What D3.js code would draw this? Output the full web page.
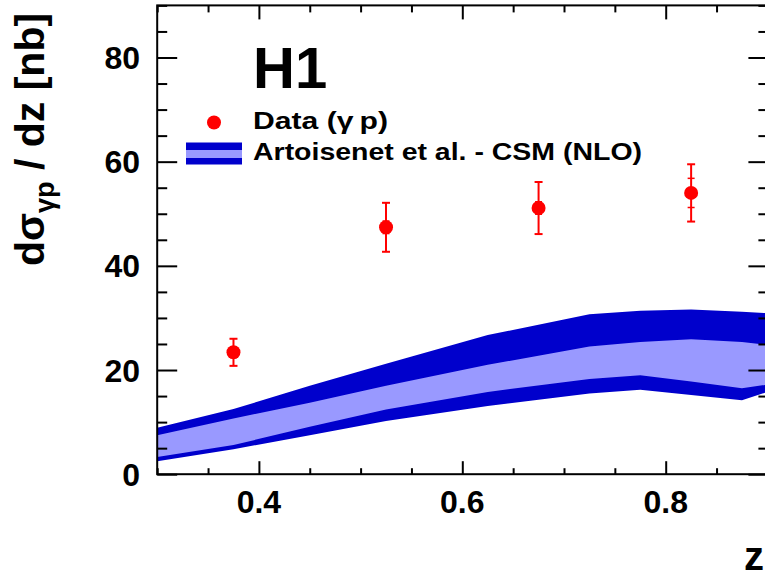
<!DOCTYPE html>
<html><head><meta charset="utf-8">
<script src="https://cdn.jsdelivr.net/npm/d3@7"></script>
<style>
body{margin:0;background:#fff}
text{font-family:"Liberation Sans",Arial,Helvetica,sans-serif;font-weight:bold;fill:#000}
</style>
</head><body>
<svg id="c" width="765" height="573"></svg>
<script>
// ---- data ----
const zData = [0.375, 0.525, 0.675, 0.825];
const sigmaData = [23.4, 47.4, 51.1, 54.0];
const errTotal = [2.6, 4.7, 5.0, 5.5];
const errStat = [1.0, 1.2, 1.2, 2.8];

const bandZ   = [0.3, 0.375, 0.45, 0.525, 0.625, 0.725, 0.775, 0.825, 0.875, 0.9];
const outerHi = [8.9, 12.5, 17.0, 21.2, 26.7, 30.7, 31.4, 31.6, 31.2, 30.9];
const innerHi = [7.5, 10.7, 13.7, 17.0, 21.0, 24.5, 25.4, 25.9, 25.4, 24.8];
const innerLo = [3.3, 5.6, 9.1, 12.4, 15.8, 18.3, 19.0, 17.8, 16.5, 17.2];
const outerLo = [2.5, 4.8, 7.5, 10.2, 13.1, 15.5, 16.2, 15.2, 14.2, 15.8];

const xMajor = [0.4, 0.6, 0.8];
const xTickLabels = ["0.4", "0.6", "0.8"];
const yMajor = [0, 20, 40, 60, 80];
const yTickLabels = ["0", "20", "40", "60", "80"];
const legendLabels = ["Data (\u03b3\u2009p)", "Artoisenet et al. - CSM (NLO)"];

// ---- layout ----
const svg = d3.select("#c");
const X0 = 157.2, X1 = 767.4, Y0 = 474.2, Y1 = 5.4;
const x = d3.scaleLinear().domain([0.3, 0.9]).range([X0, X1]);
const y = d3.scaleLinear().domain([0, 90]).range([Y0, Y1]);
const dark = "#0000cc", light = "#9999ff", red = "#ff0000";

svg.append("defs").append("clipPath").attr("id", "clip")
  .append("rect").attr("x", X0).attr("y", Y1).attr("width", X1 - X0).attr("height", Y0 - Y1);

const plot = svg.append("g").attr("clip-path", "url(#clip)");
const idx = d3.range(bandZ.length);
const areaOuter = d3.area().x(i => x(bandZ[i])).y0(i => y(outerLo[i])).y1(i => y(outerHi[i]));
const areaInner = d3.area().x(i => x(bandZ[i])).y0(i => y(innerLo[i])).y1(i => y(innerHi[i]));
plot.append("path").datum(idx).attr("d", areaOuter).attr("fill", dark);
plot.append("path").datum(idx).attr("d", areaInner).attr("fill", light);

// ---- axes ----
const xMinor = d3.range(0.3, 0.9001, 0.05).filter(v => !xMajor.some(m => Math.abs(m - v) < 1e-6));
const yMinor = d3.range(0, 90.001, 5).filter(v => !yMajor.some(m => Math.abs(m - v) < 1e-6));

function ax(gen, vals, size, tx, ty) {
  const g = svg.append("g").attr("transform", `translate(${tx},${ty})`)
    .call(gen.tickValues(vals).tickSizeInner(size).tickSizeOuter(0).tickFormat(""));
  g.select(".domain").remove();
  g.selectAll(".tick line").attr("stroke", "#000").attr("stroke-width", 2);
  return g;
}
ax(d3.axisLeft(y), yMajor, -20, X0, 0);
ax(d3.axisLeft(y), yMinor, -10, X0, 0);
ax(d3.axisRight(y), yMajor, -19, X1, 0);
ax(d3.axisRight(y), yMinor, -9, X1, 0);
ax(d3.axisBottom(x), xMajor, -13, 0, Y0);
ax(d3.axisBottom(x), xMinor, -6, 0, Y0);
ax(d3.axisTop(x), xMajor, -14, 0, Y1);
ax(d3.axisTop(x), xMinor, -7, 0, Y1);

svg.append("rect").attr("x", X0).attr("y", Y1).attr("width", X1 - X0).attr("height", Y0 - Y1)
  .attr("fill", "none").attr("stroke", "#000").attr("stroke-width", 2);

// tick labels
svg.selectAll(".ylab").data(yMajor).enter().append("text")
  .attr("x", 140).attr("y", d => y(d) + 11.5).attr("text-anchor", "end")
  .attr("font-size", 32).text((d, i) => yTickLabels[i]);
svg.selectAll(".xlab").data(xMajor).enter().append("text")
  .attr("x", d => x(d)).attr("y", 512.5).attr("text-anchor", "middle")
  .attr("font-size", 32).text((d, i) => xTickLabels[i]);

// axis titles
svg.append("text").attr("x", 764).attr("y", 570).attr("text-anchor", "end")
  .attr("font-size", 40).text("z");
const yt = svg.append("text").attr("transform", "translate(44,266) rotate(-90)")
  .attr("font-size", 41);
yt.append("tspan").text("d\u03c3");
yt.append("tspan").attr("font-size", 27).attr("dy", 10).text("\u03b3p");
yt.append("tspan").attr("dy", -10).text(" / dz [nb]");

// ---- data points ----
const pts = svg.append("g");
zData.forEach((z, i) => {
  const cx = x(z), cy = y(sigmaData[i]);
  const yt = y(sigmaData[i] + errTotal[i]), yb = y(sigmaData[i] - errTotal[i]);
  const st = y(sigmaData[i] + errStat[i]), sb = y(sigmaData[i] - errStat[i]);
  pts.append("line").attr("x1", cx).attr("x2", cx).attr("y1", yt).attr("y2", yb)
    .attr("stroke", red).attr("stroke-width", 2);
  [yt, yb].forEach(v => pts.append("line").attr("x1", cx - 4).attr("x2", cx + 4)
    .attr("y1", v).attr("y2", v).attr("stroke", red).attr("stroke-width", 2));
  [st, sb].forEach(v => pts.append("line").attr("x1", cx - 3.5).attr("x2", cx + 3.5)
    .attr("y1", v).attr("y2", v).attr("stroke", red).attr("stroke-width", 1.5));
  pts.append("circle").attr("cx", cx).attr("cy", cy).attr("r", 7).attr("fill", red);
});

// ---- H1 label and legend ----
svg.append("text").attr("x", 253).attr("y", 88).attr("font-size", 58).text("H1");
svg.append("circle").attr("cx", 214).attr("cy", 122.5).attr("r", 7).attr("fill", red);
svg.append("text").attr("x", 253).attr("y", 129).attr("font-size", 23)
  .attr("textLength", 135).attr("lengthAdjust", "spacingAndGlyphs").text(legendLabels[0]);
svg.append("rect").attr("x", 186).attr("y", 142.5).attr("width", 56).attr("height", 22).attr("fill", dark);
svg.append("rect").attr("x", 186).attr("y", 150).attr("width", 56).attr("height", 8).attr("fill", light);
svg.append("text").attr("x", 253).attr("y", 159.5).attr("font-size", 23)
  .attr("textLength", 389).attr("lengthAdjust", "spacingAndGlyphs").text(legendLabels[1]);
</script>
</body></html>
